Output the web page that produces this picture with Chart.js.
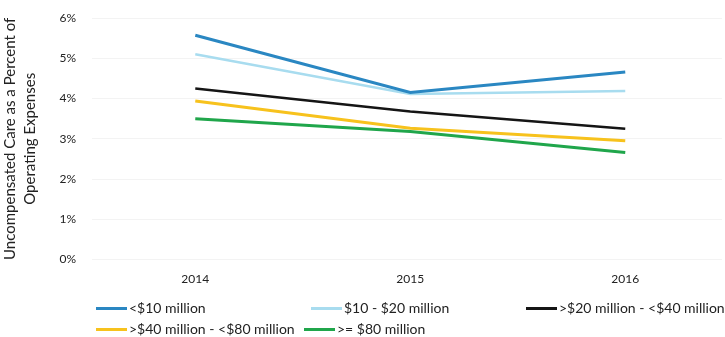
<!DOCTYPE html>
<html>
<head>
<meta charset="utf-8">
<script src="https://cdn.jsdelivr.net/npm/chart.js@4/dist/chart.umd.min.js"></script>
<style>
  html, body { margin: 0; padding: 0; background: #fff; }
  #wrap { position: relative; width: 725px; height: 337px; font-family: Lato, "Open Sans", sans-serif; }
  #chart { position: absolute; left: 0; top: 0; }
  .leg { position: absolute; font-size: 14px; color: #222; white-space: nowrap; line-height: 16px; }
  .leg i { display: inline-block; width: 31px; height: 3px; vertical-align: middle; margin-right: 2px; margin-top: -2px; }
</style>
</head>
<body>
<div id="wrap">
  <canvas id="chart" width="725" height="337"></canvas>
  <div id="legend"></div>
</div>
<script>
// Data
const years = [2014, 2015, 2016];
const under10 = [5.57, 4.15, 4.66];
const from10to20 = [5.10, 4.11, 4.19];
const from20to40 = [4.25, 3.68, 3.25];
const from40to80 = [3.94, 3.26, 2.95];
const over80 = [3.50, 3.18, 2.66];
const yTicks = [0, 1, 2, 3, 4, 5, 6];

const series = [
  { label: '<$10 million', data: under10, color: '#2a87c2', width: 3 },
  { label: '$10 - $20 million', data: from10to20, color: '#a8dcef', width: 2.5 },
  { label: '>$20 million - <$40 million', data: from20to40, color: '#151515', width: 2.5 },
  { label: '>$40 million - <$80 million', data: from40to80, color: '#f7c21d', width: 3 },
  { label: '>= $80 million', data: over80, color: '#20a64b', width: 3 }
];

// legend slots (rows/cols like the Excel legend)
const legendPos = [
  { left: 96, top: 300 }, { left: 311, top: 300 }, { left: 526, top: 300 },
  { left: 96, top: 321 }, { left: 304, top: 321 }
];

const ctx = document.getElementById('chart').getContext('2d');
new Chart(ctx, {
  type: 'line',
  data: {
    datasets: series.map(s => ({
      label: s.label,
      data: years.map((y, i) => ({ x: y, y: s.data[i] })),
      borderColor: s.color,
      backgroundColor: s.color,
      borderWidth: s.width,
      pointRadius: 0,
      tension: 0
    }))
  },
  options: {
    responsive: false,
    animation: false,
    layout: { padding: { top: 18, right: 3, bottom: 47, left: 0 } },
    plugins: { legend: { display: false }, tooltip: { enabled: false } },
    scales: {
      x: {
        type: 'linear',
        min: 2013.52,
        max: 2016.45,
        afterBuildTicks: (axis) => { axis.ticks = years.map(v => ({ value: v })); },
        grid: { display: false },
        border: { display: false },
        ticks: {
          padding: 4,
          color: '#222',
          font: { family: 'Lato', size: 12 },
          callback: (v) => String(v)
        }
      },
      y: {
        min: 0,
        max: 6,
        afterBuildTicks: (axis) => { axis.ticks = yTicks.map(v => ({ value: v })); },
        afterFit: (axis) => { axis.paddingTop = 0; },
        grid: { color: '#f3f3f3', drawTicks: false },
        border: { display: false },
        ticks: {
          padding: 16,
          color: '#222',
          font: { family: 'Lato', size: 12 },
          callback: (v) => v + '%'
        },
        title: {
          display: true,
          text: ['Uncompensated Care as a Percent of', 'Operating Expenses'],
          color: '#222',
          font: { family: 'Lato', size: 15, lineHeight: 1.35 },
          padding: { top: 0, bottom: 3 }
        }
      }
    }
  }
});

// HTML legend
const legendEl = document.getElementById('legend');
series.forEach((s, i) => {
  const d = document.createElement('div');
  d.className = 'leg';
  d.style.left = legendPos[i].left + 'px';
  d.style.top = legendPos[i].top + 'px';
  d.innerHTML = `<i style="background:${s.color}"></i>`;
  d.appendChild(document.createTextNode(s.label));
  legendEl.appendChild(d);
});
</script>
</body>
</html>
